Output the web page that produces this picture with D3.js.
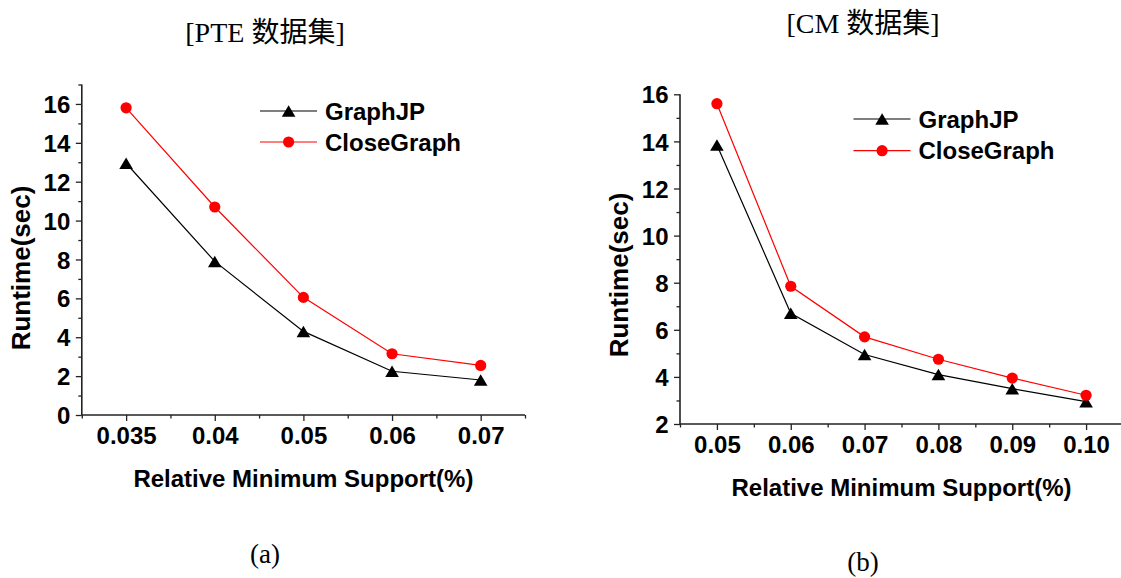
<!DOCTYPE html>
<html>
<head>
<meta charset="utf-8">
<script src="https://cdn.jsdelivr.net/npm/d3@7"></script>
<style>
  html, body { margin: 0; padding: 0; background: #fff; }
  svg { display: block; }
  .tick text { font-family: "Liberation Sans", Arial, sans-serif; font-weight: bold; font-size: 24px; fill: #000; }
  .axis path, .axis line { stroke: #222; }
</style>
</head>
<body>
<svg id="fig" width="1121" height="578"></svg>
<script>
// ---- data ----
const pteSupport = ["0.035", "0.04", "0.05", "0.06", "0.07"];
const pteGraphJP = [12.95, 7.9, 4.3, 2.25, 1.8];
const pteCloseGraph = [15.8, 10.7, 6.05, 3.15, 2.55];
const pteYTicks = [0, 2, 4, 6, 8, 10, 12, 14, 16];

const cmSupport = ["0.05", "0.06", "0.07", "0.08", "0.09", "0.10"];
const cmGraphJP = [13.85, 6.7, 4.95, 4.1, 3.5, 2.95];
const cmCloseGraph = [15.6, 7.85, 5.7, 4.75, 3.95, 3.22];
const cmYTicks = [2, 4, 6, 8, 10, 12, 14, 16];

const seriesNames = ["GraphJP", "CloseGraph"];
const seriesColors = ["#000000", "#ff0000"];

const svg = d3.select("#fig");
const sansBold = '"Liberation Sans", Arial, sans-serif';
const serif = '"Liberation Serif", "Times New Roman", "Noto Sans CJK SC", serif';

function triangle(cx, cy) {
  const hw = 6.8, h = 11.5;
  return `M${cx},${cy - h / 2}L${cx + hw},${cy + h / 2}L${cx - hw},${cy + h / 2}Z`;
}

function drawMarker(g, shape, cx, cy, color) {
  if (shape === "triangle") {
    g.append("path").attr("d", triangle(cx, cy)).attr("fill", color);
  } else {
    g.append("circle").attr("cx", cx).attr("cy", cy).attr("r", 5.6).attr("fill", color);
  }
}

function panel(opt) {
  const g = svg.append("g");
  const n = opt.cats.length;
  const x = d3.scaleLinear().domain([0.5, n + 0.5]).range([opt.x0, opt.x1]);
  const y = d3.scaleLinear().domain(opt.yDomain).range([opt.y0, opt.y1]);
  const idx = d3.range(1, n + 1);

  // minor ticks
  const minorX = d3.range(0, n + 1).map(i => i + 0.5);
  g.append("g").attr("class", "axis").attr("transform", `translate(0,${opt.y0})`)
    .call(d3.axisBottom(x).tickValues(minorX).tickSize(3.5).tickFormat(""))
    .call(a => a.select(".domain").remove())
    .selectAll("line").attr("stroke-width", 1.3);
  const minorY = d3.range(opt.yDomain[0] + 1, opt.yDomain[1] + 0.01, 2);
  g.append("g").attr("class", "axis").attr("transform", `translate(${opt.x0},0)`)
    .call(d3.axisLeft(y).tickValues(minorY).tickSize(3.5).tickFormat(""))
    .call(a => a.select(".domain").remove())
    .selectAll("line").attr("stroke-width", 1.3);

  // major axes
  const xa = g.append("g").attr("class", "axis").attr("transform", `translate(0,${opt.y0})`)
    .call(d3.axisBottom(x).tickValues(idx).tickSize(6).tickPadding(9)
      .tickFormat(i => opt.cats[i - 1]));
  xa.select(".domain").attr("d", `M${opt.x0},0H${opt.x1}`).attr("stroke-width", 1.6);
  xa.selectAll("line").attr("stroke-width", 1.3);
  xa.selectAll("text").attr("dy", null).attr("y", 29);

  const ya = g.append("g").attr("class", "axis").attr("transform", `translate(${opt.x0},0)`)
    .call(d3.axisLeft(y).tickValues(opt.yTicks).tickSize(6).tickPadding(5.5).tickFormat(d3.format("d")));
  ya.select(".domain").attr("d", `M0,${opt.y0}V${opt.y1}`).attr("stroke-width", 1.6);
  ya.selectAll("line").attr("stroke-width", 1.3);
  ya.selectAll("text").attr("dy", "0.36em");

  // series
  const shapes = ["triangle", "circle"];
  opt.series.forEach((vals, s) => {
    const line = d3.line().x((d, i) => x(i + 1)).y(d => y(d));
    g.append("path").attr("d", line(vals)).attr("fill", "none")
      .attr("stroke", seriesColors[s]).attr("stroke-width", 1.2);
    vals.forEach((v, i) => drawMarker(g, shapes[s], x(i + 1), y(v), seriesColors[s]));
  });

  // legend
  seriesNames.forEach((name, s) => {
    const ly = opt.legY[s];
    g.append("line").attr("x1", opt.legX).attr("x2", opt.legX + 57)
      .attr("y1", ly).attr("y2", ly).attr("stroke", seriesColors[s]).attr("stroke-width", 1.2);
    drawMarker(g, shapes[s], opt.legX + 28.6, ly, seriesColors[s]);
    g.append("text").attr("x", opt.legX + 65).attr("y", ly).attr("dy", "0.36em")
      .attr("font-family", sansBold).attr("font-weight", "bold").attr("font-size", 24)
      .text(name);
  });

  // axis titles
  g.append("text").attr("x", (opt.x0 + opt.x1) / 2).attr("y", opt.y0 + 72)
    .attr("text-anchor", "middle").attr("font-family", sansBold).attr("font-weight", "bold")
    .attr("font-size", 24).text("Relative Minimum Support(%)");
  g.append("text").attr("transform", `translate(${opt.ylabX},${opt.ylabY}) rotate(-90)`)
    .attr("text-anchor", "middle").attr("font-family", sansBold).attr("font-weight", "bold")
    .attr("font-size", 26).text("Runtime(sec)");

  // panel title and caption
  g.append("text").attr("x", opt.cx).attr("y", opt.titleY).attr("text-anchor", "middle")
    .attr("font-family", serif).attr("font-size", 28).text(opt.title);
  g.append("text").attr("x", opt.cx).attr("y", opt.capY).attr("text-anchor", "middle")
    .attr("font-family", serif).attr("font-size", 27).text(opt.caption);
}

panel({
  cats: pteSupport, series: [pteGraphJP, pteCloseGraph], yTicks: pteYTicks,
  yDomain: [0, 17], x0: 81.8, x1: 525, y0: 415, y1: 84.5,
  legX: 260, legY: [111, 142],
  ylabX: 29.5, ylabY: 268,
  cx: 265, titleY: 42, title: "[PTE 数据集]", capY: 563, caption: "(a)"
});

panel({
  cats: cmSupport, series: [cmGraphJP, cmCloseGraph], yTicks: cmYTicks,
  yDomain: [2, 16], x0: 680, x1: 1123, y0: 424, y1: 94.3,
  legX: 853.5, legY: [119, 150.7],
  ylabX: 628, ylabY: 275,
  cx: 863, titleY: 33, title: "[CM 数据集]", capY: 571, caption: "(b)"
});
</script>
</body>
</html>
